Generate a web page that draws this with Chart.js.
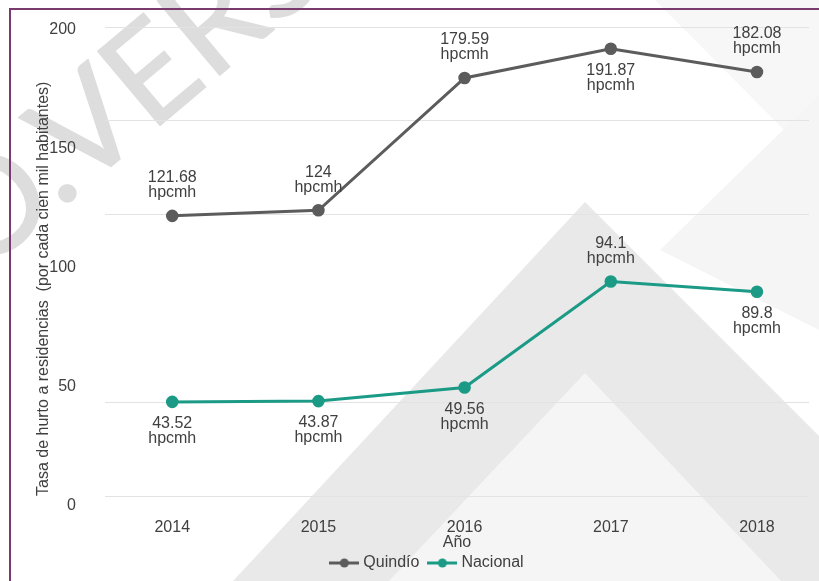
<!DOCTYPE html>
<html><head><meta charset="utf-8">
<script src="https://cdn.jsdelivr.net/npm/chart.js@4.4.1/dist/chart.umd.min.js"></script>
<style>
html,body{margin:0;padding:0;background:#fff;}
#wrap{position:relative;width:819px;height:581px;overflow:hidden;}
#bg{position:absolute;left:0;top:0;}
#frame{position:absolute;left:9px;top:8px;width:830px;height:600px;border-left:2px solid #7a3a70;border-top:2px solid #7a3a70;box-sizing:border-box;}
#c{position:absolute;left:0;top:0;}
</style></head><body>
<div id="wrap">
<svg id="bg" width="819" height="581">
 <polygon points="655,0 819,0 819,165" fill="#f7f7f7"/>
 <polygon points="660,250 819,95 819,330" fill="#f5f5f5"/>
 <polygon points="585,202 819,436 819,581 233,581" fill="#e9e9e9"/>
 <polygon points="585,373 389,581 781,581" fill="#f5f5f5"/>
 <g transform="translate(115,163) rotate(-40)" font-family="Lato" font-size="135" fill="#dddddd" stroke="#dddddd" stroke-width="1.5" stroke-linejoin="round">
  <text x="-45" y="0">VERSIÓN</text>
  <text x="-40" y="0" text-anchor="end">O.</text>
 </g>
</svg>
<div id="frame"></div>
<canvas id="c" width="819" height="581"></canvas>
</div>
<script>
const years = [2014, 2015, 2016, 2017, 2018];
const yearLabels = ['2014', '2015', '2016', '2017', '2018'];
const quindio = [121.68, 124, 179.59, 191.87, 182.08];
const nacional = [43.52, 43.87, 49.56, 94.1, 89.8];
const yTickValues = [0, 50, 100, 150, 200];
const quindioLabelSide = ['above', 'above', 'above', 'below', 'above'];
const nacionalLabelSide = ['below', 'below', 'below', 'above', 'below'];
const unit = 'hpcmh';

const FONT = "'Liberation Sans', Arial, sans-serif";
const TXT = '#404040';
const GRAY = '#5c5c5c';
const TEAL = '#1b9a86';

function marker(color) {
  const c = document.createElement('canvas');
  c.width = 30; c.height = 10;
  const g = c.getContext('2d');
  g.strokeStyle = color; g.lineWidth = 3;
  g.beginPath(); g.moveTo(0, 5); g.lineTo(30, 5); g.stroke();
  g.fillStyle = color; g.beginPath(); g.arc(15, 5, 4.5, 0, Math.PI * 2); g.fill();
  return c;
}
const markers = [marker(GRAY), marker(TEAL)];

const valueLabels = {
  id: 'valueLabels',
  afterDatasetsDraw(chart) {
    const ctx = chart.ctx;
    ctx.save();
    ctx.font = '16px ' + FONT;
    ctx.fillStyle = TXT;
    ctx.textAlign = 'center';
    ctx.textBaseline = 'middle';
    chart.data.datasets.forEach((ds, di) => {
      const meta = chart.getDatasetMeta(di);
      meta.data.forEach((pt, i) => {
        const above = ds.labelSide[i] === 'above';
        const y1 = above ? pt.y - 38 : pt.y + 22;
        ctx.fillText(String(ds.data[i].y), pt.x, y1);
        ctx.fillText(unit, pt.x, y1 + 15);
      });
    });
    ctx.restore();
  }
};

const legendShift = {
  id: 'legendShift',
  afterLayout(chart) {
    const l = chart.legend;
    if (l) { l.left += 24; l.right += 24; }
  }
};

new Chart(document.getElementById('c'), {
  type: 'line',
  data: {
    datasets: [
      { label: 'Quindío', data: years.map((x, i) => ({ x, y: quindio[i] })), labelSide: quindioLabelSide,
        borderColor: GRAY, backgroundColor: GRAY, pointBackgroundColor: GRAY, pointBorderColor: GRAY,
        borderWidth: 3, pointRadius: 4.8, pointHoverRadius: 4.8, tension: 0, xAxisID: 'x', yAxisID: 'y' },
      { label: 'Nacional', data: years.map((x, i) => ({ x, y: nacional[i] })), labelSide: nacionalLabelSide,
        borderColor: TEAL, backgroundColor: TEAL, pointBackgroundColor: TEAL, pointBorderColor: TEAL,
        borderWidth: 3, pointRadius: 4.8, pointHoverRadius: 4.8, tension: 0, xAxisID: 'x', yAxisID: 'y' }
    ]
  },
  options: {
    responsive: false,
    animation: false,
    layout: { padding: { top: 27, right: 10, bottom: 0, left: 0 } },
    plugins: {
      tooltip: { enabled: false },
      legend: {
        position: 'bottom',
        labels: {
          usePointStyle: true, pointStyleWidth: 22, color: TXT, padding: 12,
          font: { family: FONT, size: 16 },
          generateLabels(chart) {
            const items = Chart.defaults.plugins.legend.labels.generateLabels(chart);
            return items.map((it, i) => Object.assign({}, it, { pointStyle: markers[i] }));
          }
        }
      }
    },
    scales: {
      x: {
        type: 'linear', min: 2013.54, max: 2018.356,
        grid: { display: false }, border: { display: false },
        afterBuildTicks(ax) { ax.ticks = years.map(v => ({ value: v })); },
        ticks: { callback: (v, i) => yearLabels[i], color: TXT, font: { family: FONT, size: 16 }, padding: 14, maxRotation: 0, autoSkip: false },
        title: { display: true, text: 'Año', color: TXT, font: { family: FONT, size: 16 }, padding: { top: 0, bottom: -9 } },
        afterFit(ax) { ax.height = 47; }
      },
      y: {
        min: 4, max: 201, position: 'left', weight: 0,
        grid: { color: c => c.index === 2 ? 'rgba(0,0,0,0)' : '#e3e3e3', lineWidth: 1, drawTicks: false },
        border: { display: false },
        ticks: { display: false },
        afterBuildTicks(ax) { const n = 5; ax.ticks = Array.from({ length: n + 1 }, (_, i) => ({ value: ax.min + i * (ax.max - ax.min) / n })); },
        afterFit(ax) { ax.width = 21; }
      },
      y2: {
        min: 4, max: 201, position: 'left', weight: 1,
        grid: { display: false }, border: { display: false },
        afterBuildTicks(ax) { ax.ticks = yTickValues.map(v => ({ value: v })); },
        ticks: { color: TXT, font: { family: FONT, size: 16 }, padding: 0, callback: v => String(v) },
        title: { display: true, text: 'Tasa de hurto a residencias  (por cada cien mil habitantes)', align: 'start',
                 color: TXT, font: { family: FONT, size: 16 }, padding: { top: 34, bottom: 0 } },
        afterFit(ax) { ax.width = 84; }
      }
    }
  },
  plugins: [valueLabels, legendShift]
});
</script>
</body></html>
